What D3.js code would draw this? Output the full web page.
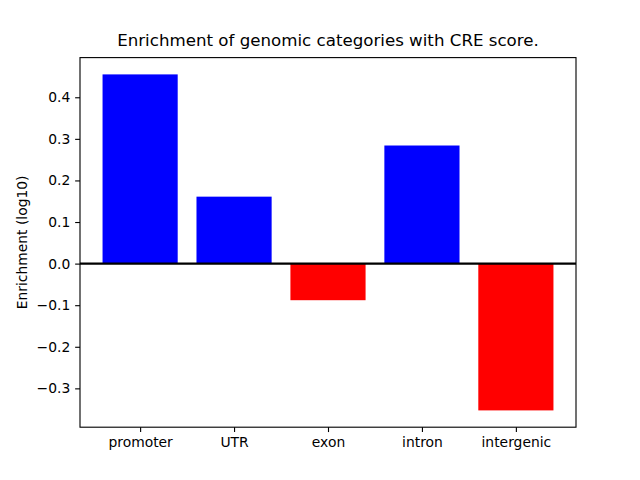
<!DOCTYPE html>
<html>
<head>
<meta charset="utf-8">
<script src="https://cdn.jsdelivr.net/npm/d3@7"></script>
<style>
  body { margin: 0; background: #fff; }
  text { font-family: "DejaVu Sans", sans-serif; }
</style>
</head>
<body>
<div id="chart"></div>
<script>
(function () {

    var categories = ['promoter', 'UTR', 'exon', 'intron', 'intergenic']
    var enrichment = [0.455, 0.161, -0.088, 0.284, -0.353]
    var yTicks = [-0.3, -0.2, -0.1, 0.0, 0.1, 0.2, 0.3, 0.4]

    var width = 640, height = 480
    var left = 80, right = 576, top = 57.6, bottom = 427.2
    var pt = 100 / 72

    var svg = d3.select('#chart')
        .append('svg')
        .attr('width', width)
        .attr('height', height)

    // matplotlib style bar positions: 0..n-1, width 0.8, 5% margins
    var n = categories.length
    var xMin = -0.4 - 0.05 * (n - 1 + 0.8), xMax = n - 1 + 0.4 + 0.05 * (n - 1 + 0.8)
    var x = d3.scaleLinear().domain([xMin, xMax]).range([left, right])

    var yLo = d3.min(enrichment), yHi = d3.max(enrichment)
    var pad = (yHi - yLo) * 0.05
    var y = d3.scaleLinear().domain([yLo - pad, yHi + pad]).range([bottom, top])

    svg.selectAll('.bar')
        .data(enrichment)
        .enter().append('rect')
        .attr('class', 'bar')
        .attr('x', function(d, i) { return x(i - 0.4) })
        .attr('width', function() { return x(0.8) - x(0) })
        .attr('y', function(d) { return y(Math.max(0, d)) })
        .attr('height', function(d) { return Math.abs(y(d) - y(0)) })
        .attr('fill', function(d) { return d > 0 ? '#0000ff' : '#ff0000' })

    // zero line
    svg.append('line')
        .attr('x1', left).attr('x2', right)
        .attr('y1', y(0)).attr('y2', y(0))
        .attr('stroke', 'black')
        .attr('stroke-width', 1.5 * pt)

    var yAxis = svg.append('g')
        .attr('transform', 'translate(' + left + ',0)')
        .call(d3.axisLeft(y).tickValues(yTicks).tickSize(3.5 * pt).tickPadding(3.5 * pt)
            .tickFormat(function(d) { return d3.format('.1f')(d).replace('-', '\u2212') }))

    var xAxis = svg.append('g')
        .attr('transform', 'translate(0,' + bottom + ')')
        .call(d3.axisBottom(x).tickValues(d3.range(n)).tickSize(3.5 * pt).tickPadding(3.5 * pt)
            .tickFormat(function(d) { return categories[d] }))

    svg.selectAll('.domain').remove()
    svg.selectAll('.tick line').attr('stroke', 'black').attr('stroke-width', 0.8 * pt)
    svg.selectAll('.tick text').attr('font-size', (10 * pt) + 'px').attr('fill', 'black')
        .attr('font-family', '"DejaVu Sans", sans-serif')

    // frame
    svg.append('rect')
        .attr('x', left).attr('y', top)
        .attr('width', right - left).attr('height', bottom - top)
        .attr('fill', 'none')
        .attr('stroke', 'black')
        .attr('stroke-width', 0.8 * pt)

    svg.append('text')
        .attr('x', (left + right) / 2)
        .attr('y', top - 6 * pt - 3)
        .attr('text-anchor', 'middle')
        .attr('font-size', (12 * pt) + 'px')
        .text('Enrichment of genomic categories with CRE score.')

    svg.append('text')
        .attr('transform', 'translate(' + 27 + ',' + ((top + bottom) / 2) + ') rotate(-90)')
        .attr('text-anchor', 'middle')
        .attr('font-size', (10 * pt) + 'px')
        .text('Enrichment (log10)')

})()
</script>
</body>
</html>
